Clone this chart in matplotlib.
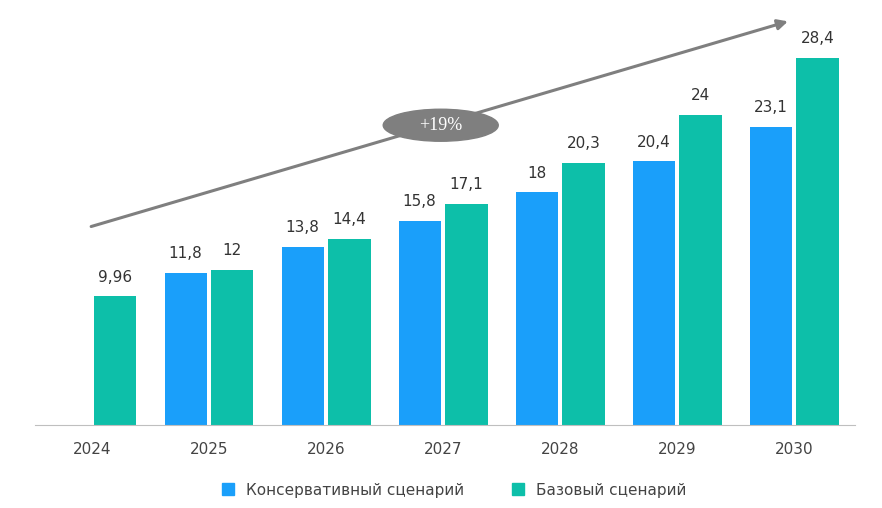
import matplotlib
matplotlib.use('Agg')
import matplotlib.pyplot as plt
from matplotlib.patches import Ellipse

# данные
years = ["2024", "2025", "2026", "2027", "2028", "2029", "2030"]
conservative = [None, 11.8, 13.8, 15.8, 18, 20.4, 23.1]
base = [9.96, 12, 14.4, 17.1, 20.3, 24, 28.4]
cagr_label = "+19%"

BLUE = "#1a9ffa"
GREEN = "#0dbfa9"

fig = plt.figure(figsize=(8.82, 5.08), dpi=100)
ax = fig.add_axes([35 / 882, 1 - 425 / 508, 820 / 882, 407 / 508])

w = 0.36
off = 0.2
x = list(range(len(years)))

def fmt(v):
    return str(v).replace(".", ",")

for i, v in enumerate(conservative):
    if v is None:
        continue
    ax.bar(i - off, v, w, color=BLUE)
    ax.text(i - off, v + 0.9, fmt(v), ha="center", va="bottom", fontsize=11, color="#333333")
for i, v in enumerate(base):
    ax.bar(i + off, v, w, color=GREEN)
    ax.text(i + off, v + 0.9, fmt(v), ha="center", va="bottom", fontsize=11, color="#333333")

ax.set_xlim(-0.487, 6.52)
ax.set_ylim(0, 31.5)
ax.set_xticks(x)
ax.set_xticklabels(years, fontsize=11, color="#444444")
ax.tick_params(axis="x", length=0, pad=12)
ax.set_yticks([])
for s in ["top", "right", "left"]:
    ax.spines[s].set_visible(False)
ax.spines["bottom"].set_color("#bfbfbf")

# стрелка роста
ax.annotate("", xy=(5.97, 31.3), xytext=(-0.03, 15.3),
            arrowprops=dict(arrowstyle="-|>", color="#7f7f7f", lw=2.2, mutation_scale=15),
            annotation_clip=False)
ax.add_patch(Ellipse((2.98, 23.2), 115 / 117, 32 / 12.92, color="#7f7f7f", zorder=5))
ax.text(2.98, 23.2, cagr_label, ha="center", va="center", color="white",
        fontsize=13, family="Liberation Serif", zorder=6)

# легенда
h1 = plt.Line2D([], [], marker="s", ls="", color=BLUE, markersize=8)
h2 = plt.Line2D([], [], marker="s", ls="", color=GREEN, markersize=8)
fig.legend([h1, h2], ["Консервативный сценарий", "Базовый сценарий"],
           loc="center", bbox_to_anchor=(0.51, 1 - 490 / 508), ncol=2, frameon=False,
           fontsize=11, handletextpad=0.2, columnspacing=2.5, labelcolor="#444444")

fig.savefig("out.png", dpi=100)
